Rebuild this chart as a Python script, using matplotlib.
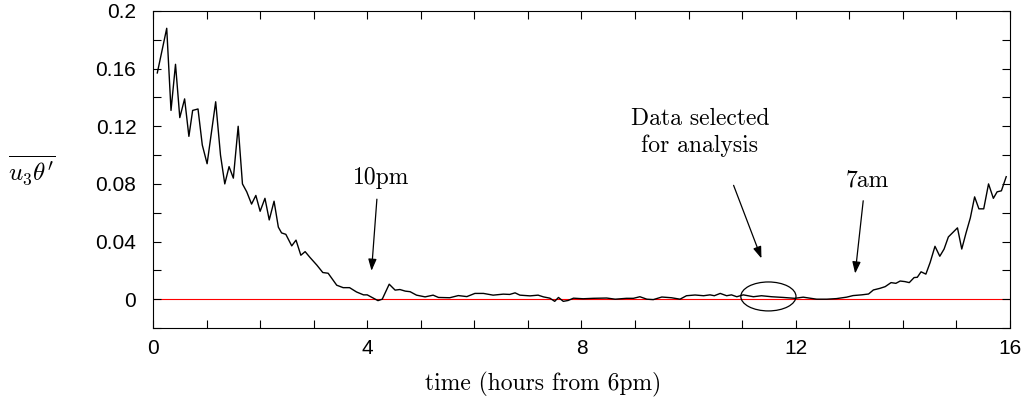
import numpy as np
import matplotlib
matplotlib.use("Agg")
import matplotlib.pyplot as plt
from matplotlib.patches import Ellipse

# flux time series (hours from 6pm, u3 theta')
hours = [0.08, 0.256, 0.336, 0.42, 0.50, 0.59, 0.67, 0.74, 0.84, 0.92,
         1.01, 1.17, 1.26, 1.34, 1.42, 1.50, 1.59, 1.67, 1.75, 1.84,
         1.92, 2.00, 2.09, 2.17, 2.26, 2.34, 2.40, 2.48, 2.59, 2.67,
         2.76, 2.84, 2.93, 3.06, 3.17, 3.27, 3.43, 3.55, 3.67, 3.80,
         3.93, 4.00, 4.10, 4.20, 4.28, 4.41, 4.52, 4.61, 4.71, 4.80,
         4.92, 5.08, 5.23, 5.33, 5.54, 5.70, 5.86, 6.01, 6.17, 6.35,
         6.54, 6.66, 6.76, 6.85, 7.04, 7.19, 7.29, 7.41, 7.50, 7.57,
         7.66, 7.75, 7.85, 8.03, 8.22, 8.47, 8.63, 8.84, 8.97, 9.09,
         9.22, 9.34, 9.50, 9.68, 9.84, 9.96, 10.12, 10.28, 10.40, 10.48,
         10.59, 10.71, 10.80, 10.90, 11.02, 11.21, 11.36, 11.55, 11.77, 11.98,
         12.14, 12.39, 12.58, 12.76, 12.95, 13.07, 13.23, 13.36, 13.45, 13.57,
         13.67, 13.78, 13.87, 13.95, 14.04, 14.12, 14.21, 14.27, 14.34, 14.43,
         14.51, 14.60, 14.69, 14.77, 14.85, 15.02, 15.10, 15.18, 15.26, 15.34,
         15.42, 15.51, 15.60, 15.69, 15.76, 15.84, 15.93]
flux = [0.157, 0.188, 0.131, 0.163, 0.126, 0.139, 0.113, 0.131, 0.132, 0.107,
        0.094, 0.137, 0.100, 0.080, 0.092, 0.084, 0.120, 0.080, 0.0745, 0.066,
        0.072, 0.061, 0.070, 0.055, 0.068, 0.050, 0.046, 0.045, 0.037, 0.041,
        0.0305, 0.033, 0.029, 0.0236, 0.0185, 0.018, 0.0097, 0.008, 0.008, 0.005,
        0.003, 0.003, 0.001, -0.001, 0.0, 0.0104, 0.0063, 0.0067, 0.0056, 0.0052,
        0.0028, 0.0016, 0.0028, 0.0012, 0.0010, 0.0025, 0.0018, 0.004, 0.004, 0.0028,
        0.0035, 0.0033, 0.0044, 0.0028, 0.0023, 0.0028, 0.0016, 0.0007, -0.0015, 0.0012,
        -0.0015, -0.0009, 0.0007, 0.0003, 0.0006, 0.0008, 0.0, 0.0006, 0.0006, 0.0017,
        0.0, -0.0003, 0.0015, 0.001, 0.0, 0.0024, 0.0029, 0.0024, 0.003, 0.0024,
        0.004, 0.0024, 0.003, 0.0017, 0.003, 0.0017, 0.0024, 0.0017, 0.0012, 0.0006,
        0.0014, 0.0, 0.0, 0.0004, 0.0014, 0.0025, 0.003, 0.0036, 0.0064, 0.0075,
        0.0087, 0.0115, 0.011, 0.0126, 0.0122, 0.0115, 0.015, 0.0152, 0.019, 0.0174,
        0.0255, 0.0367, 0.0298, 0.0348, 0.0432, 0.0495, 0.0348, 0.046, 0.0564, 0.071,
        0.0627, 0.0627, 0.080, 0.070, 0.0745, 0.0752, 0.085]

xticks = [0, 4, 8, 12, 16]
yticks = [0, 0.04, 0.08, 0.12, 0.16, 0.2]
ytick_labels = ["0", "0.04", "0.08", "0.12", "0.16", "0.2"]

plt.rcParams["mathtext.fontset"] = "cm"
serif = "cmr10"

fig = plt.figure(figsize=(10.29, 4.13), dpi=100)
ax = fig.add_axes([0.1487, 0.2058, 0.8328, 0.7676])

ax.axhline(0, color="red", lw=0.8, zorder=1)
ax.plot(hours, flux, color="black", lw=1.0, zorder=2)

ax.set_xlim(0, 16)
ax.set_ylim(-0.02, 0.2)
ax.set_xticks(xticks)
ax.set_xticks(np.arange(0, 17, 1), minor=True)
ax.set_yticks(yticks)
ax.set_yticklabels(ytick_labels)
ax.set_yticks(np.arange(-0.02, 0.201, 0.02), minor=True)
ax.tick_params(which="both", direction="in", top=True, right=True,
               length=6, width=0.8)
ax.tick_params(axis="x", labelsize=15, pad=8)
ax.tick_params(axis="y", labelsize=15, pad=12)
for lab in ax.get_xticklabels() + ax.get_yticklabels():
    lab.set_family("Liberation Sans")

ax.set_xlabel("time (hours from 6pm)", fontsize=17, family=serif)
ax.xaxis.set_label_coords(0.455, -0.14)
fig.text(32 / 1029, 1 - 170 / 413, r"$\overline{u_3\theta^\prime}$",
         fontsize=18, ha="center", va="center")

# annotations
arrow = dict(arrowstyle="-|>,head_length=0.7,head_width=0.25",
             color="black", lw=0.9, shrinkA=0, shrinkB=0)
ax.text(4.26, 0.084, "10pm", fontsize=17, family=serif, ha="center", va="center")
ax.annotate("", xy=(4.08, 0.0197), xytext=(4.18, 0.0694), arrowprops=arrow)

ax.text(13.33, 0.0826, "7am", fontsize=17, family=serif, ha="center", va="center")
ax.annotate("", xy=(13.11, 0.0178), xytext=(13.26, 0.0683), arrowprops=arrow)

ax.text(10.21, 0.116, "Data selected\nfor analysis", fontsize=17, family=serif,
        ha="center", va="center", linespacing=1.25)
ax.annotate("", xy=(11.36, 0.0283), xytext=(10.84, 0.079), arrowprops=arrow)
ax.add_patch(Ellipse((11.49, 0.0019), 1.03, 0.0201, fill=False,
                     edgecolor="black", lw=0.9))

fig.savefig("out.png", dpi=100)
